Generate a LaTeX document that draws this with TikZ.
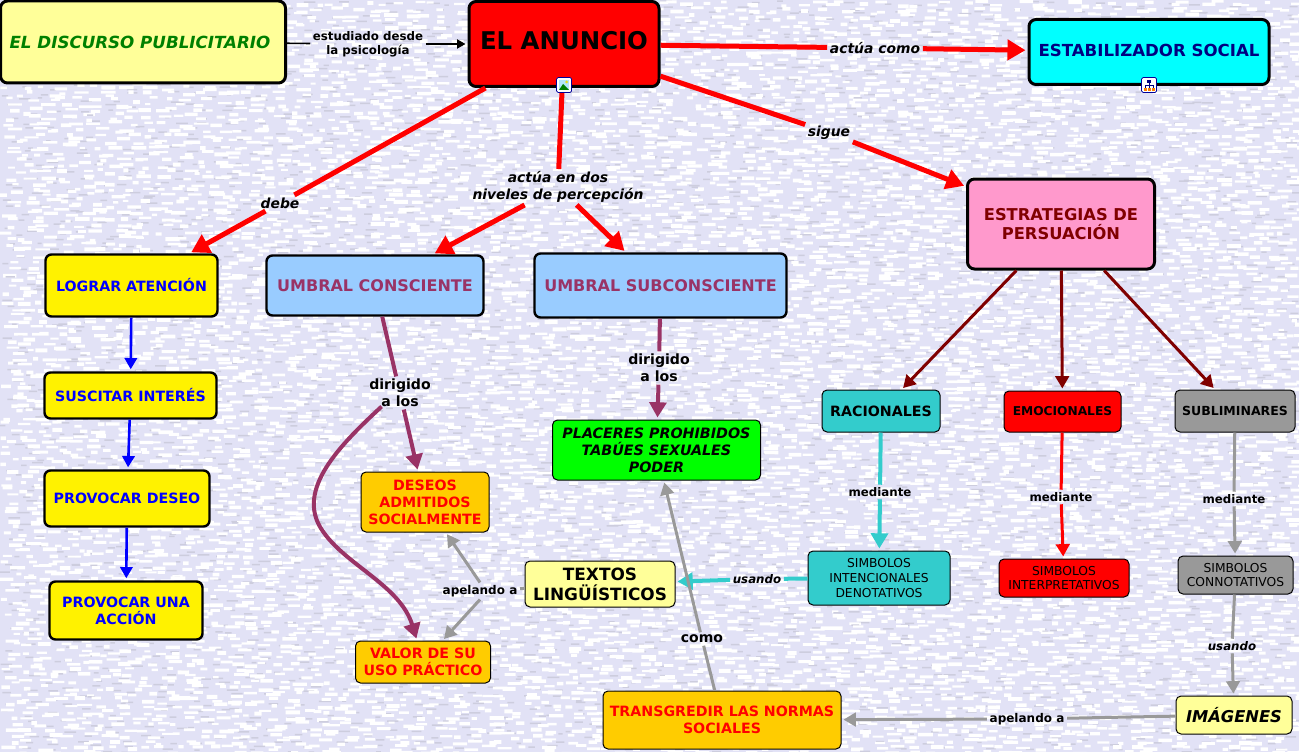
\documentclass[tikz,border=0pt]{standalone}
\usepackage{fontspec}
\setmainfont{DejaVu Sans}
\usetikzlibrary{arrows.meta}

\definecolor{fondo}{HTML}{E2E2F6}
\definecolor{sombra}{HTML}{CDCDDE}
\definecolor{crema}{HTML}{FFFF99}
\definecolor{celeste}{HTML}{99CCFF}
\definecolor{rosa}{HTML}{FF99CC}
\definecolor{naranja}{HTML}{FFCC00}
\definecolor{turquesa}{HTML}{33CCCC}
\definecolor{gris}{HTML}{999999}
\definecolor{violeta}{HTML}{993366}
\definecolor{granate}{HTML}{800000}
\definecolor{marino}{HTML}{000080}
\definecolor{verdeosc}{HTML}{008000}
\definecolor{cian}{HTML}{00FFFF}

\newcommand{\fs}[1]{\fontsize{#1}{1.19\dimexpr#1pt\relax}\selectfont}

\begin{document}
\begin{tikzpicture}[
    x=1pt, y=-1pt,
    concepto/.style={draw, rounded corners=5, line width=1, align=center, inner sep=2, font=\bfseries\fs{14.2}},
    grueso/.style={concepto, line width=3, rounded corners=7},
    medio/.style={concepto, line width=2.4, rounded corners=6},
    enlace/.style={align=center, inner sep=2.5, font=\bfseries\fs{11.8}},
    enlacei/.style={enlace, font=\bfseries\itshape\fs{13.9}},
    flecha/.style={line width=#1, -{Triangle[length=#1*2.8+4, width=#1*3.2+4]}, shorten >=2},
    tramo/.style={line width=#1},
    icono/.style={draw=blue!60!black, fill=white, rounded corners=1.5, line width=.7, minimum size=15, inner sep=0}
]
\useasboundingbox (0,0) rectangle (1299,752);
\fill[fondo] (0,0) rectangle (1299,752);

% textura del fondo
\pgfmathsetseed{7}
\foreach \py in {0,6,...,750} {
    \fill[sombra] \foreach \qx in {0,36,...,1290} {({\qx+rnd*36},{\py+rnd*6}) rectangle +({4+rnd*8},1.5)};
    \fill[white] \foreach \qx in {0,17,...,1295} {({\qx+rnd*17},{\py+rnd*5}) rectangle +({5+rnd*10},{2+rnd*2})};
}

% conceptos
\node[grueso, fill=crema, minimum width=285, minimum height=82, font=\bfseries\itshape\fs{16.7}, text=verdeosc] (discurso) at (143,42) {\kern-6pt EL DISCURSO PUBLICITARIO};
\node[grueso, fill=red, minimum width=190, minimum height=85, text depth=8, font=\bfseries\fs{24.4}] (anuncio) at (564,44) {EL ANUNCIO};
\node[grueso, fill=cian, minimum width=240, minimum height=65, text depth=4, font=\bfseries\fs{16.6}, text=marino] (estabilizador) at (1149,52) {ESTABILIZADOR SOCIAL};
\node[grueso, fill=rosa, minimum width=187, minimum height=90, font=\bfseries\fs{16.3}, text=granate] (estrategias) at (1061,224) {ESTRATEGIAS DE\\PERSUACIÓN};

\node[medio, fill=yellow, minimum width=172, minimum height=62, text=blue] (lograr) at (131.5,285.5) {LOGRAR ATENCIÓN};
\node[medio, fill=yellow, minimum width=172, minimum height=46, text=blue] (suscitar) at (130.5,395.5) {SUSCITAR INTERÉS};
\node[medio, fill=yellow, minimum width=165, minimum height=56, text=blue] (deseo) at (127,498.5) {PROVOCAR DESEO};
\node[medio, fill=yellow, minimum width=153, minimum height=58, text=blue] (accion) at (126,610.5) {PROVOCAR UNA\\ACCIÓN};

\node[medio, fill=celeste, minimum width=217, minimum height=60, font=\bfseries\fs{16}, text=violeta] (consciente) at (375,285.5) {UMBRAL CONSCIENTE};
\node[medio, fill=celeste, minimum width=252, minimum height=64, font=\bfseries\fs{16}, text=violeta] (subconsciente) at (660.5,285.5) {UMBRAL SUBCONSCIENTE};

\node[concepto, fill=green, minimum width=208, minimum height=60, font=\bfseries\itshape\fs{14.3}] (placeres) at (656.5,450) {PLACERES PROHIBIDOS\\TABÚES SEXUALES\\PODER};
\node[concepto, fill=naranja, minimum width=128, minimum height=60, text=red] (deseos) at (425,502) {DESEOS\\ADMITIDOS\\SOCIALMENTE};
\node[concepto, fill=naranja, minimum width=135, minimum height=42, text=red] (valor) at (423,662) {VALOR DE SU\\USO PRÁCTICO};
\node[concepto, fill=crema, minimum width=150, minimum height=46, font=\bfseries\fs{16.9}] (textos) at (600,584) {TEXTOS\\LINGÜÍSTICOS};
\node[concepto, fill=naranja, minimum width=238, minimum height=58, text=red] (transgredir) at (722,720) {TRANSGREDIR LAS NORMAS\\SOCIALES};

\node[concepto, fill=turquesa, minimum width=118, minimum height=42] (racionales) at (881,411) {RACIONALES};
\node[concepto, fill=red, minimum width=117, minimum height=41, font=\bfseries\fs{12.2}] (emocionales) at (1062.5,411.5) {EMOCIONALES};
\node[concepto, fill=gris, minimum width=120, minimum height=42, font=\bfseries\fs{12.5}] (subliminares) at (1235,411) {SUBLIMINARES};

\node[concepto, fill=turquesa, minimum width=142, minimum height=54, font=\fs{12.3}] (intencionales) at (879,578) {SIMBOLOS\\INTENCIONALES\\DENOTATIVOS};
\node[concepto, fill=red, minimum width=130, minimum height=38, font=\fs{12.3}] (interpretativos) at (1064,578) {SIMBOLOS\\INTERPRETATIVOS};
\node[concepto, fill=gris, minimum width=115, minimum height=38, font=\fs{12.3}] (connotativos) at (1235.5,575) {SIMBOLOS\\CONNOTATIVOS};
\node[concepto, fill=crema, minimum width=116, minimum height=38, font=\bfseries\itshape\fs{16.3}] (imagenes) at (1234,715) {IMÁGENES};

% palabras de enlace
\node[enlace] (psicologia) at (368,44) {estudiado desde\\la psicología};
\node[enlacei] (como) at (875,48) {actúa como};
\node[enlacei] (sigue) at (829,132.5) {sigue};
\node[enlacei] (debe) at (280,203) {debe};
\node[enlacei] (niveles) at (558,187) {actúa en dos\\niveles de percepción};
\node[enlace, font=\bfseries\fs{14.1}] (dirigidoA) at (400,393) {dirigido\\a los};
\node[enlace, font=\bfseries\fs{14.1}] (dirigidoB) at (659,368) {dirigido\\a los};
\node[enlace] (medianteA) at (880,492) {mediante};
\node[enlace] (medianteB) at (1061,497) {mediante};
\node[enlace] (medianteC) at (1234,499) {mediante};
\node[enlacei, font=\bfseries\itshape\fs{11.8}] (usandoA) at (757,579) {usando};
\node[enlacei, font=\bfseries\itshape\fs{11.8}] (usandoB) at (1232,646) {usando};
\node[enlace, font=\bfseries\fs{12}] (apelandoA) at (480,591) {apelando a};
\node[enlace, font=\bfseries\fs{12}] (apelandoB) at (1027,719) {apelando a};
\node[enlace, font=\bfseries\fs{14}] (comoB) at (702,639) {como};

% conexiones
\draw[flecha=1.6] (psicologia) -- (anuncio);
\draw[tramo=1.6] (discurso) -- (psicologia);

\draw[tramo=5, red] (anuncio) -- (como);
\draw[flecha=5, red] (como) -- (estabilizador);
\draw[tramo=5, red] (anuncio) -- (sigue);
\draw[flecha=5, red] (sigue) -- (estrategias);
\draw[tramo=5, red] (anuncio) -- (debe);
\draw[flecha=5, red] (debe) -- (lograr);
\draw[tramo=5, red] (anuncio) -- (niveles);
\draw[flecha=5, red] (niveles) -- (consciente);
\draw[flecha=5, red] (niveles) -- (subconsciente);

\draw[flecha=2.6, blue] (lograr) -- (suscitar);
\draw[flecha=2.6, blue] (suscitar) -- (deseo);
\draw[flecha=2.6, blue] (deseo) -- (accion);

\draw[tramo=4, violeta] (consciente) -- (dirigidoA);
\draw[flecha=4, violeta] (dirigidoA) -- (deseos);
\draw[flecha=4, violeta] ([shift={(15,-3)}]dirigidoA.south west) .. controls (340,445) and (295,490) .. (322,530) .. controls (345,565) and (400,585) .. ([xshift=-6]valor.north);
\draw[tramo=4, violeta] (subconsciente) -- (dirigidoB);
\draw[flecha=4, violeta] (dirigidoB) -- (placeres);

\draw[flecha=3, granate] (estrategias) -- (racionales);
\draw[flecha=3, granate] (estrategias) -- (emocionales);
\draw[flecha=3, granate] (estrategias) -- (subliminares);

\draw[tramo=4, turquesa] (racionales) -- (medianteA);
\draw[flecha=4, turquesa] (medianteA) -- (intencionales);
\draw[tramo=3, red] (emocionales) -- (medianteB);
\draw[flecha=3, red] (medianteB) -- (interpretativos);
\draw[tramo=3, gris] (subliminares) -- (medianteC);
\draw[flecha=3, gris] (medianteC) -- (connotativos);
\draw[tramo=3, gris] (connotativos) -- (usandoB);
\draw[flecha=3, gris] (usandoB) -- (imagenes);
\draw[tramo=3, gris] (imagenes) -- (apelandoB);
\draw[flecha=3, gris] (apelandoB) -- (transgredir);

\draw[tramo=4, turquesa] (intencionales) -- (usandoA);
\draw[flecha=4, turquesa] (usandoA) -- (textos);
\draw[tramo=3, gris] (textos) -- (apelandoA);
\draw[flecha=3, gris] (apelandoA.north) -- (deseos);
\draw[flecha=3, gris] (apelandoA.south) -- (valor);
\draw[tramo=3, gris] (transgredir) -- (comoB);
\draw[flecha=3, gris] (comoB) -- (placeres);

% iconos
\node[icono] (imagen) at (564,85) {};
\fill[cyan!30] ([shift={(-5,-5)}]imagen.center) rectangle ([shift={(5,5)}]imagen.center);
\fill[green!50!black] ([shift={(-5,5)}]imagen.center) -- ([shift={(-1,-1)}]imagen.center) -- ([shift={(5,5)}]imagen.center) -- cycle;
\fill[yellow!90!black] ([shift={(2.5,-3)}]imagen.center) circle (1.5);
\node[icono] (mapa) at (1149,85) {};
\draw[marino, line width=.8] ([shift={(0,-3)}]mapa.center) -- ([shift={(0,3)}]mapa.center) ([shift={(-4,3)}]mapa.center) -- ([shift={(-4,0)}]mapa.center) -- ([shift={(4,0)}]mapa.center) -- ([shift={(4,3)}]mapa.center);
\fill[marino] ([shift={(-2,-5)}]mapa.center) rectangle ([shift={(2,-2)}]mapa.center);
\fill[orange] ([shift={(-5.5,3)}]mapa.center) rectangle ([shift={(-2.5,6)}]mapa.center);
\fill[orange] ([shift={(-1.5,3)}]mapa.center) rectangle ([shift={(1.5,6)}]mapa.center);
\fill[orange] ([shift={(2.5,3)}]mapa.center) rectangle ([shift={(5.5,6)}]mapa.center);

\end{tikzpicture}
\end{document}
